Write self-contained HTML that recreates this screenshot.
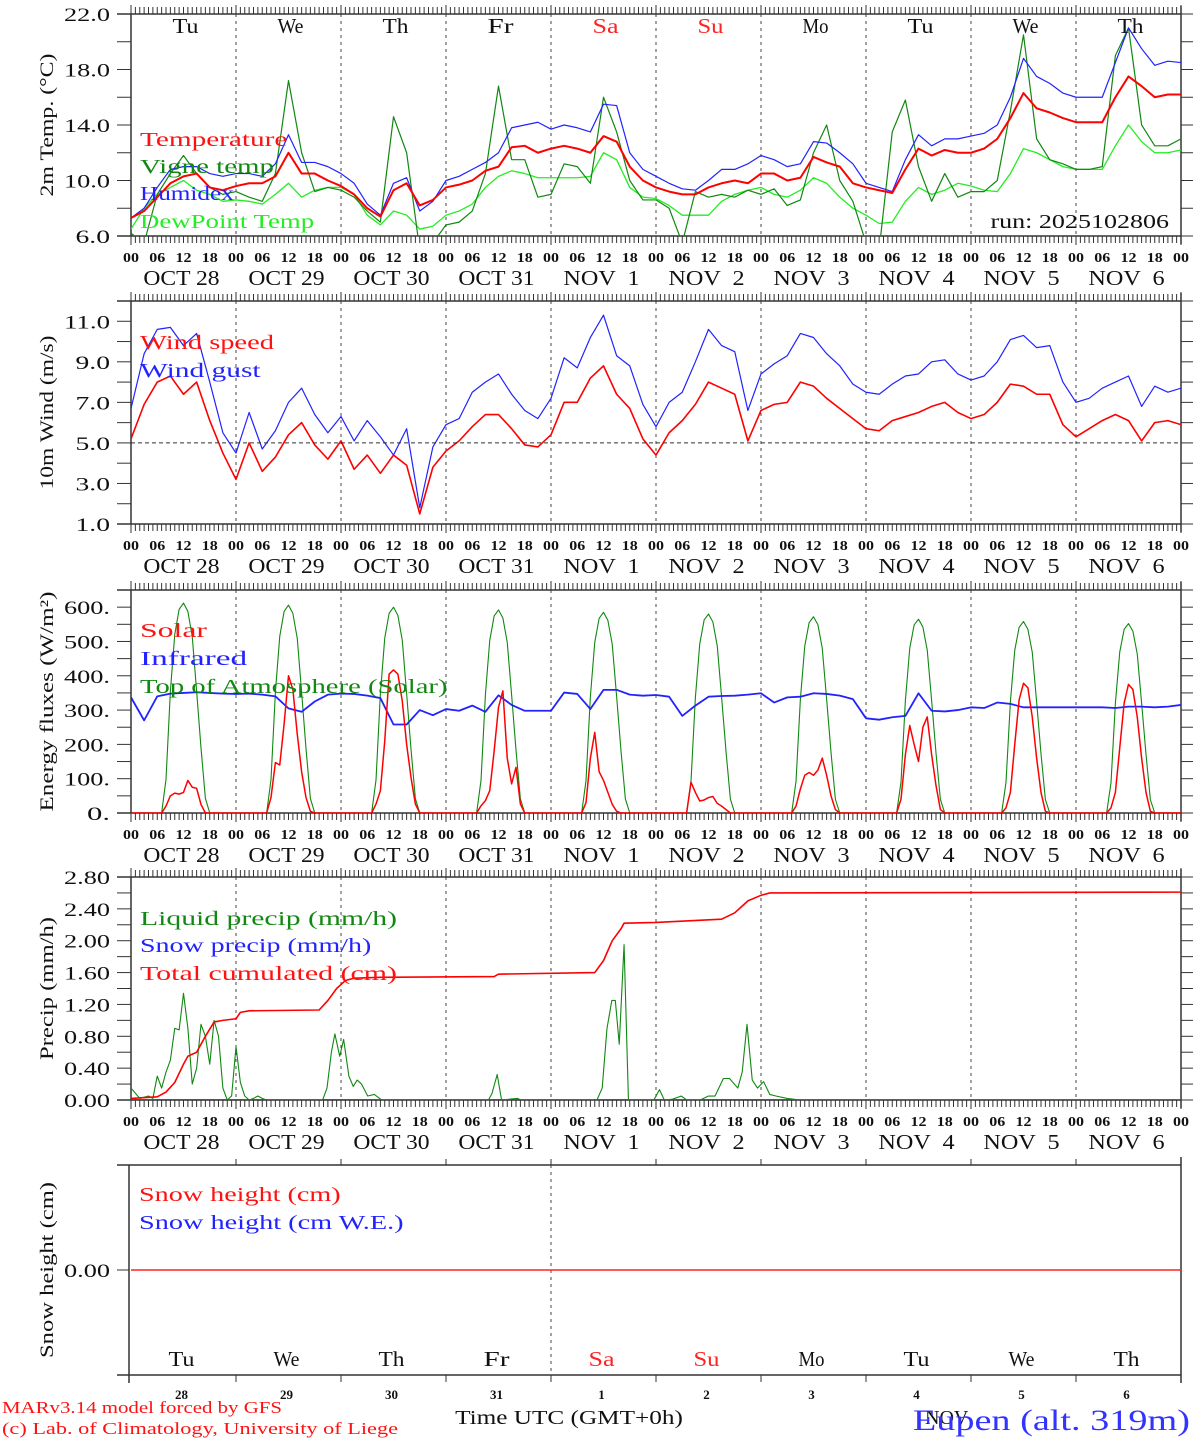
<!DOCTYPE html>
<html><head><meta charset="utf-8"><title>MAR forecast - Eupen</title>
<style>
html,body{margin:0;padding:0;background:#fff;}
svg{display:block;}
text{font-family:"Liberation Serif",serif;white-space:pre;}
</style></head>
<body>
<svg id="chart" width="1194" height="1440" viewBox="0 0 1194 1440" xmlns="http://www.w3.org/2000/svg"></svg>
<script>
// ---------- DATA (3-hourly, 00 Oct 28 .. 00 Nov 7) ----------
const dayNames = ["Tu","We","Th","Fr","Sa","Su","Mo","Tu","We","Th"];
const dateLabels = ["OCT 28","OCT 29","OCT 30","OCT 31","NOV  1","NOV  2","NOV  3","NOV  4","NOV  5","NOV  6"];
const dayNums = ["28","29","30","31","1","2","3","4","5","6"];
const temperature = [7.3,7.8,8.8,9.8,10.3,10.5,9.5,9.3, 9.6,9.8,9.8,10.3,12.0,10.5,10.5,10.0, 9.6,9.0,8.0,7.4,9.3,9.8,8.2,8.6, 9.5,9.7,10.0,10.7,11.0,12.4,12.5,12.0, 12.3,12.5,12.3,12.0,13.2,12.8,11.0,10.0, 9.5,9.2,9.0,9.0,9.5,9.8,10.0,9.8, 10.5,10.5,10.0,10.2,11.7,11.3,11.0,9.8, 9.5,9.3,9.1,10.8,12.3,11.8,12.2,12.0, 12.0,12.3,13.0,14.5,16.3,15.2,14.9,14.5, 14.2,14.2,14.2,16.0,17.5,16.8,16.0,16.2,16.2];
const humidex = [7.3,8.0,9.5,10.8,11.0,11.0,10.5,10.3, 10.5,10.5,10.3,11.2,13.3,11.3,11.3,11.0, 10.5,9.8,8.3,7.5,9.8,10.2,7.8,8.5, 10.0,10.3,10.8,11.3,12.0,13.8,14.0,14.2, 13.7,14.0,13.8,13.5,15.5,15.4,12.0,10.8, 10.3,9.8,9.4,9.3,10.0,10.8,10.8,11.2, 11.8,11.5,11.0,11.2,12.8,12.7,12.0,11.2, 9.8,9.5,9.2,11.5,13.3,12.5,13.0,13.0, 13.2,13.4,14.0,16.0,18.8,17.5,17.0,16.3, 16.0,16.0,16.0,18.5,21.0,19.5,18.3,18.6,18.5];
const dewpoint = [6.5,8.0,9.0,9.5,10.0,9.3,9.0,8.5, 8.6,8.5,8.3,9.0,9.8,8.8,9.3,9.5, 9.5,9.0,7.5,6.8,7.8,7.5,6.5,6.7, 7.5,7.8,8.3,9.5,10.3,10.7,10.5,10.2, 10.2,10.2,10.2,10.3,12.0,11.5,9.5,8.8, 8.7,8.2,7.5,7.5,7.5,8.5,9.0,9.3, 9.5,9.0,8.8,9.3,10.2,9.8,8.8,8.0, 7.5,6.9,7.0,8.5,9.5,9.0,9.3,9.8, 9.6,9.3,9.2,10.5,12.3,12.0,11.5,11.0, 10.8,10.8,10.8,12.5,14.0,12.8,12.0,12.0,12.2];
const vigne = [6.2,5.5,9.0,10.5,11.8,10.5,9.5,9.0, 9.2,8.8,8.5,10.5,17.2,12.0,9.2,9.5, 9.3,8.8,7.8,7.0,14.6,12.0,5.0,5.5, 6.8,7.0,7.8,10.5,16.8,11.5,11.5,8.8, 9.0,11.2,11.0,9.8,16.0,13.5,10.0,8.6, 8.6,8.0,5.5,9.2,8.8,9.0,8.8,9.3, 9.0,9.4,8.2,8.6,12.0,14.0,10.0,8.5, 5.5,5.0,13.5,15.8,11.0,8.5,10.5,8.8, 9.2,9.2,10.0,15.0,20.5,13.0,11.5,11.2, 10.8,10.8,11.0,19.0,21.0,14.0,12.5,12.5,13.0];
const windSpeed = [5.2,6.9,8.0,8.3,7.4,8.0,6.1,4.5, 3.2,5.0,3.6,4.3,5.4,6.0,4.9,4.2, 5.1,3.7,4.4,3.5,4.4,3.9,1.5,3.8, 4.6,5.1,5.8,6.4,6.4,5.7,4.9,4.8, 5.4,7.0,7.0,8.2,8.8,7.4,6.7,5.2, 4.4,5.5,6.1,6.9,8.0,7.7,7.4,5.1, 6.6,6.9,7.0,8.0,7.8,7.2,6.7,6.2, 5.7,5.6,6.1,6.3,6.5,6.8,7.0,6.5, 6.2,6.4,7.0,7.9,7.8,7.4,7.4,5.9, 5.3,5.7,6.1,6.4,6.1,5.1,6.0,6.1,5.9];
const windGust = [6.7,9.4,10.6,10.7,9.8,10.4,8.0,5.5, 4.5,6.5,4.7,5.6,7.0,7.7,6.4,5.5, 6.3,5.1,6.1,5.3,4.4,5.7,1.8,4.8, 5.9,6.2,7.5,8.0,8.4,7.4,6.6,6.2, 7.2,9.2,8.7,10.2,11.3,9.3,8.8,6.9, 5.8,7.0,7.5,9.0,10.6,9.8,9.5,6.6, 8.4,8.9,9.3,10.4,10.2,9.4,8.8,7.9, 7.5,7.4,7.9,8.3,8.4,9.0,9.1,8.4, 8.1,8.3,9.0,10.1,10.3,9.7,9.8,8.0, 7.0,7.2,7.7,8.0,8.3,6.8,7.8,7.5,7.7];
const infrared = [337,270,340,348,350,352,350,348, 347,348,345,340,305,295,325,345, 348,347,342,335,258,258,300,285, 303,298,313,295,343,315,298,298, 298,351,347,303,359,359,345,342, 344,339,283,313,339,341,342,345, 349,322,337,339,349,347,342,332, 276,272,279,283,349,298,296,300, 308,306,322,318,308,308,308,308, 308,308,308,306,310,310,308,310,315];
// hourly daytime values, hours 07..18 for each day
const solarDays = [
 [0,20,50,58,55,60,95,75,72,25,0,0],
 [0,45,147,140,260,400,360,230,120,45,5,0],
 [0,26,65,210,405,417,405,327,200,104,26,0],
 [0,21,36,65,180,308,356,160,85,133,26,0],
 [0,30,160,235,120,95,60,25,5,0,0,0],
 [0,90,60,35,38,45,48,28,20,10,0,0],
 [0,20,70,110,118,110,125,160,110,50,10,0],
 [0,40,170,255,200,150,250,280,170,80,10,0],
 [0,15,60,200,330,378,365,280,160,60,5,0],
 [0,15,60,190,320,375,360,280,160,60,5,0]];
const toaPeaks = [612,606,600,592,585,580,572,565,558,552];
const toaShape = [0,0.16,0.58,0.85,0.97,1,0.96,0.84,0.58,0.31,0.07,0];
const liqHours = [0,2,4,5,6,7,8,9,10,11,12,13,14,15,16,17,18,19,20,21,22,23,24,25,26,27,28,29,30,31, 43.8,44.8,45.8,46.6,47.7,48.6,49.8,50.8,51.7,52.7,54.1,55.6,57.3, 81.7,82.5,83.7,84.7,88.3,89.2, 106.5,107.7,108.8,109.9,110.7,111.6,112.7,113.7, 119.5,120.8,121.9,123.8,125.8,127,130.1,132,133.5,135.4,136.8,138.7,139.7,140.8,142,143.2,144.6,146,147.4,150,153,240];
const liqVals = [0.15,0.02,0.05,0.02,0.3,0.15,0.35,0.5,0.9,0.88,1.34,0.9,0.2,0.4,0.95,0.8,0.45,1.0,0.8,0.15,0.0,0.05,0.67,0.22,0.05,0.0,0.02,0.05,0.02,0, 0,0.15,0.6,0.83,0.55,0.76,0.3,0.17,0.25,0.2,0.05,0.07,0, 0,0.08,0.32,0,0.02,0, 0,0.15,0.9,1.25,1.25,0.7,1.95,0, 0,0.13,0,0.01,0.05,0,0,0.05,0.05,0.27,0.27,0.15,0.35,0.95,0.25,0.15,0.23,0.07,0.05,0.02,0,0];
const cumHours = [0,6,8,10,12,13,15,17,19,21,24,25,27,43,45,47,49,51,57,83,84,106,108,110,112,112.7,120,135,138,140,141,144,146,240];
const cumVals = [0.02,0.04,0.1,0.22,0.45,0.55,0.6,0.8,0.98,1.0,1.02,1.1,1.12,1.13,1.25,1.4,1.5,1.53,1.54,1.55,1.58,1.6,1.75,2.0,2.15,2.22,2.23,2.27,2.35,2.45,2.5,2.57,2.6,2.61];
const snowHeight = [0,0];

// ---------- DRAWING ----------
const NS="http://www.w3.org/2000/svg";
const svg=document.getElementById('chart');
const X0=131, X1=1181, DAYW=105;
function xh(h){return X0+h*DAYW/24;}
function mk(tag,attrs,name,inter,parent){
  const el=document.createElementNS(NS,tag);
  for(const k in attrs) el.setAttribute(k,attrs[k]);
  
  
  (parent||svg).appendChild(el);
  return el;
}
function txt(x,y,s,size,color,anchor,cw,name,extra){
  const a={x:x,y:y,'font-size':size,fill:color,'text-anchor':anchor||'start'};
  if(cw){a.textLength=(s.length*cw).toFixed(1);a.lengthAdjust='spacingAndGlyphs';}
  if(extra) for(const k in extra) a[k]=extra[k];
  const t=mk('text',a,name,false);
  t.textContent=s;
  return t;
}
function line(x1,y1,x2,y2,stroke,w,name,dash){
  const a={x1:x1,y1:y1,x2:x2,y2:y2,stroke:stroke,'stroke-width':w||1};
  if(dash) a['stroke-dasharray']=dash;
  return mk('line',a,name,false);
}
const panels=[
 {id:'temp',top:14,bot:236,vmin:6,vmax:22,step:2,lab:4,fmt:v=>v.toFixed(1),title:'2m Temp. (\u00B0C)'},
 {id:'wind',top:301,bot:524,vmin:1,vmax:12,step:1,lab:2,fmt:v=>v.toFixed(1),title:'10m Wind (m/s)'},
 {id:'flux',top:590,bot:813,vmin:0,vmax:650,step:50,lab:100,fmt:v=>v.toFixed(0)+'.',title:'Energy fluxes (W/m\u00B2)'},
 {id:'precip',top:877,bot:1100,vmin:0,vmax:2.8,step:0.2,lab:0.4,fmt:v=>v.toFixed(2),title:'Precip (mm/h)'}
];
function ys(p,v){return p.bot-(v-p.vmin)/(p.vmax-p.vmin)*(p.bot-p.top);}

panels.forEach((p,pi)=>{
  const g=mk('g',{},p.id+'-panel',false);
  const cp=mk('clipPath',{id:'clip'+pi},p.id+'-clip',false);
  mk('rect',{x:X0,y:p.top,width:X1-X0,height:p.bot-p.top},p.id+'-clip-rect',false,cp);
  for(let d=1;d<10;d++) line(xh(d*24),p.top,xh(d*24),p.bot,'#444',1,p.id+'-day-line','3,4');
  line(117,p.top,X1,p.top,'#333',1.5,p.id+'-top-axis');
  line(117,p.bot,X1,p.bot,'#333',1.5,p.id+'-bottom-axis');
  line(X0,p.top,X0,p.bot,'#333',1.5,p.id+'-left-axis');
  line(X1,p.top-8,X1,p.bot+8,'#333',1.5,p.id+'-right-axis');
  for(let h=0;h<=240;h++){
    const x=xh(h);
    const L=(h%24===0)?9:7;
    line(x,p.top-L,x,p.top,'#333',1,p.id+'-top-tick');
    line(x,p.bot,x,p.bot+L,'#333',1,p.id+'-bottom-tick');
  }
  const n=Math.round((p.vmax-p.vmin)/p.step);
  for(let i=0;i<=n;i++){
    const v=p.vmin+i*p.step, y=ys(p,v);
    line(117,y,X0,y,'#333',1,p.id+'-y-tick');
    line(X1,y,X1+12,y,'#333',1,p.id+'-y-tick-right');
    const r=(v-p.vmin)/p.lab;
    if(Math.abs(r-Math.round(r))<1e-6) txt(110,y+7,p.fmt(v),19,'#111','end',11.5,p.id+'-y-label');
  }
  txt(0,0,p.title,19,'#111','middle',11,p.id+'-y-axis-title',{transform:'translate(53,'+((p.top+p.bot)/2)+') rotate(-90)'});
  for(let d=0;d<10;d++){
    [0,6,12,18].forEach(hh=>txt(xh(d*24+hh),p.bot+26,String(hh).padStart(2,'0'),14,'#111','middle',8,p.id+'-hour-label',{'font-weight':'bold'}));
    txt(xh(d*24+12)-2,p.bot+49,dateLabels[d],21,'#111','middle',12.7,p.id+'-date-label');
  }
  txt(xh(240),p.bot+26,'00',14,'#111','middle',8,p.id+'-hour-label',{'font-weight':'bold'});
  p.g=mk('g',{'clip-path':'url(#clip'+pi+')'},p.id+'-series',false);
});

function path3h(p,arr,color,w,name){
  let d='';
  arr.forEach((v,i)=>{d+=(i?'L':'M')+xh(i*3).toFixed(2)+','+ys(p,v).toFixed(2);});
  return mk('path',{d:d,fill:'none',stroke:color,'stroke-width':w,'stroke-linejoin':'round'},name,false,p.g);
}
function pathXY(p,hs,vs,color,w,name){
  let d='';
  hs.forEach((h,i)=>{d+=(i?'L':'M')+xh(h).toFixed(2)+','+ys(p,vs[i]).toFixed(2);});
  return mk('path',{d:d,fill:'none',stroke:color,'stroke-width':w,'stroke-linejoin':'round'},name,false,p.g);
}
const P1=panels[0];
path3h(P1,dewpoint,'#22ee22',1.3,'dewpoint-line');
path3h(P1,vigne,'#118811',1.2,'vigne-temp-line');
path3h(P1,humidex,'#2222ff',1.2,'humidex-line');
path3h(P1,temperature,'#ff0000',2,'temperature-line');
for(let d=0;d<10;d++) txt(xh(d*24+12)+2,33,dayNames[d],21,(d===4||d===5)?'#ff2222':'#111','middle',13,'day-name');
txt(140,146,'Temperature',20,'#ff1111','start',13.4,'legend-temperature');
txt(140,173,'Vigne temp',20,'#118811','start',13.4,'legend-vigne-temp');
txt(140,200,'Humidex',20,'#2222ff','start',13.4,'legend-humidex');
txt(140,228,'DewPoint Temp',20,'#22ee22','start',13.4,'legend-dewpoint');
txt(1169,228,'run: 2025102806',20,'#111','end',11.9,'run-label');
const P2=panels[1];
line(X0,ys(P2,5),X1,ys(P2,5),'#333',1,'wind-5ms-reference','4,3');
path3h(P2,windGust,'#2222ff',1.2,'wind-gust-line');
path3h(P2,windSpeed,'#ff0000',1.6,'wind-speed-line');
txt(140,349,'Wind speed',20,'#ff1111','start',13.4,'legend-wind-speed');
txt(140,377,'Wind gust',20,'#2222ff','start',13.4,'legend-wind-gust');
const P3=panels[2];
const hrs=[],solar=[],toa=[];
for(let h=0;h<=240;h++){
  const d=Math.floor(h/24), hh=h%24;
  hrs.push(h);
  if(d<10&&hh>=7&&hh<=18){solar.push(solarDays[d][hh-7]);toa.push(toaPeaks[d]*toaShape[hh-7]);}
  else {solar.push(0);toa.push(0);}
}
pathXY(P3,hrs,toa,'#118811',1.1,'toa-solar-line');
path3h(P3,infrared,'#2222ff',1.8,'infrared-line');
pathXY(P3,hrs,solar,'#ff0000',1.5,'solar-line');
txt(140,637,'Solar',20,'#ff1111','start',13.4,'legend-solar');
txt(140,665,'Infrared',20,'#2222ff','start',13.4,'legend-infrared');
txt(140,693,'Top of Atmosphere (Solar)',20,'#118811','start',12.3,'legend-toa');
const P4=panels[3];
pathXY(P4,[0,240],[0,0],'#2222ff',1.5,'snow-precip-line');
pathXY(P4,liqHours,liqVals,'#118811',1.1,'liquid-precip-line');
pathXY(P4,cumHours,cumVals,'#ff0000',1.6,'total-cumulated-line');
txt(140,925,'Liquid precip (mm/h)',20,'#118811','start',12.85,'legend-liquid-precip');
txt(140,952,'Snow precip (mm/h)',20,'#2222ff','start',12.85,'legend-snow-precip');
txt(140,980,'Total cumulated (cm)',20,'#ff1111','start',12.85,'legend-total-cumulated');
const P5={top:1165,bot:1375,vmin:-1,vmax:1};
line(117,P5.top,X1,P5.top,'#333',1.5,'snow-top-axis');
line(117,P5.bot,X1,P5.bot,'#333',1.5,'snow-bottom-axis');
line(129,P5.top,129,P5.bot+8,'#333',1.5,'snow-left-axis');
line(X1,P5.top-8,X1,P5.bot+8,'#333',1.5,'snow-right-axis');
line(xh(96),P5.top,xh(96),P5.bot,'#444',1,'snow-day-line','3,4');
for(let d=1;d<=10;d++){line(xh(d*24),P5.top-6,xh(d*24),P5.top,'#333',1,'snow-top-tick');line(xh(d*24),P5.bot,xh(d*24),P5.bot+7,'#333',1,'snow-bottom-tick');}
const y0=P5.bot-(snowHeight[0]-P5.vmin)/(P5.vmax-P5.vmin)*(P5.bot-P5.top);
line(117,y0,129,y0,'#333',1,'snow-y-tick');
txt(110,y0+7,'0.00',19,'#111','end',11.5,'snow-y-label');
mk('path',{d:'M'+xh(0)+','+y0+'L'+xh(240)+','+(P5.bot-(snowHeight[1]-P5.vmin)/(P5.vmax-P5.vmin)*(P5.bot-P5.top)),stroke:'#ff2222','stroke-width':1.5,fill:'none'},'snow-height-line',false);
txt(0,0,'Snow height (cm)',19,'#111','middle',11,'snow-y-axis-title',{transform:'translate(53,1270) rotate(-90)'});
txt(139,1201,'Snow height (cm)',20,'#ff1111','start',12.6,'legend-snow-height');
txt(139,1229,'Snow height (cm W.E.)',20,'#2222ff','start',12.6,'legend-snow-we');
for(let d=0;d<10;d++){
  txt(xh(d*24+12)-2,1366,dayNames[d],21,(d===4||d===5)?'#ff2222':'#111','middle',13,'snow-day-name');
  txt(xh(d*24+12)-2,1399,dayNums[d],13,'#111','middle',null,'snow-day-number',{'font-weight':'bold'});
}
txt(569,1424,'Time UTC (GMT+0h)',20,'#111','middle',13.4,'x-axis-title');
txt(925,1424,'NOV',20,'#111','start',null,'month-label');
txt(2,1413,'MARv3.14 model forced by GFS',17,'#ff1111','start',10,'credit-model');
txt(2,1434,'(c) Lab. of Climatology, University of Liege',17,'#ff1111','start',9,'credit-lab');
txt(1190,1430,'Eupen (alt. 319m)',30,'#3333ff','end',16.3,'station-title');
</script>
</body></html>
